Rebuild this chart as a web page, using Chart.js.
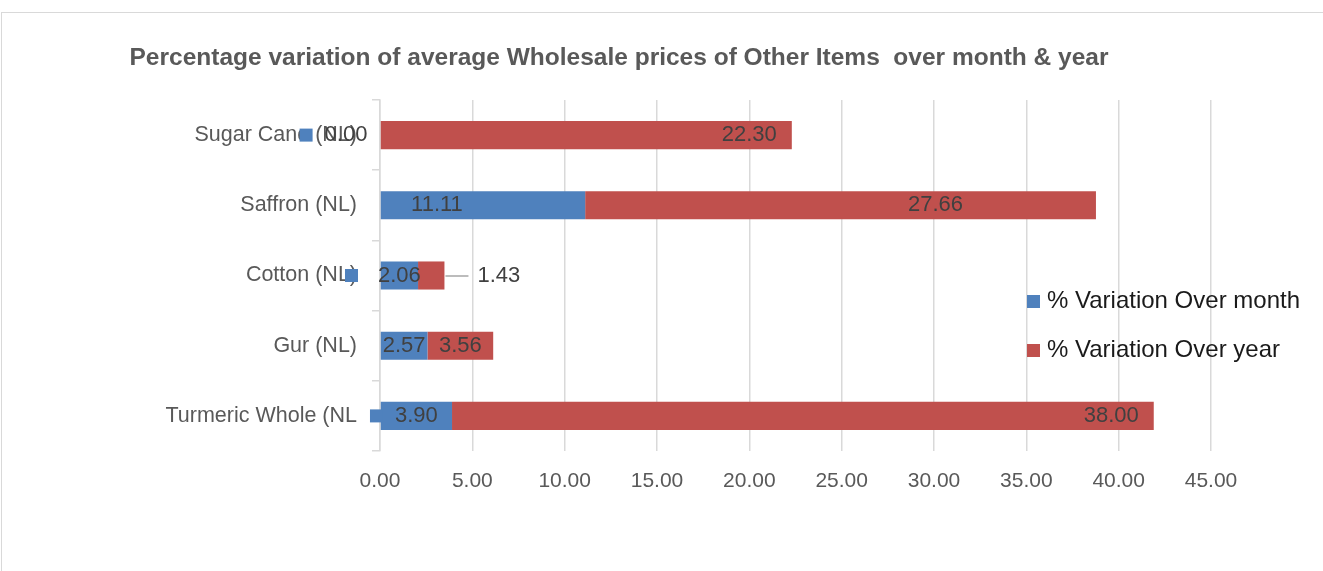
<!DOCTYPE html>
<html>
<head>
<meta charset="utf-8">
<script src="https://cdn.jsdelivr.net/npm/chart.js@4/dist/chart.umd.min.js"></script>
<style>
  html, body { margin: 0; padding: 0; background: #fff; }
  #wrap { position: relative; width: 1323px; height: 571px; }
</style>
</head>
<body>
<div id="wrap"><canvas id="chart" width="1323" height="571"></canvas></div>
<script>
// data
const categories = ['Sugar Cane (NL)', 'Saffron (NL)', 'Cotton (NL)', 'Gur (NL)', 'Turmeric Whole (NL'];
const overMonth = [0.00, 11.11, 2.06, 2.57, 3.90];
const overYear = [22.30, 27.66, 1.43, 3.56, 38.00];
const seriesNames = ['% Variation Over month', '% Variation Over year'];

// where each data label sits (label style, not data)
const monthLabelShift = [-34, -46, 0, 0, 0];
const monthKeyGap = [12, 0, 20, 0, 12]; // 0 = no legend key next to the label
const yearLabelPlace = ['end', 'center', 'outside', 'center', 'end'];
const yearLabelShift = [0, 95, 0, 0, 0];

const FONT = "'Liberation Sans', Arial, sans-serif";
const blue = '#4F81BD';
const red = '#C0504D';
const grid = '#D9D9D9';

const frame = {
    id: 'frame',
    beforeDraw(chart) {
        const ctx = chart.ctx;
        ctx.save();
        ctx.strokeStyle = grid;
        ctx.lineWidth = 1;
        ctx.strokeRect(1.5, 12.5, 1400, 700);
        ctx.fillStyle = '#595959';
        ctx.font = 'bold 24.5px ' + FONT;
        ctx.textAlign = 'center';
        ctx.textBaseline = 'middle';
        ctx.fillText('Percentage variation of average Wholesale prices of Other Items  over month & year', 619, 58);
        ctx.restore();
    },
    afterDraw(chart) {
        const ctx = chart.ctx;
        ctx.save();
        // legend inside the plot
        const cols = [blue, red];
        ctx.font = '24px ' + FONT;
        ctx.textBaseline = 'middle';
        ctx.textAlign = 'left';
        seriesNames.forEach((name, i) => {
            const y = 301 + i * 49;
            ctx.fillStyle = cols[i];
            ctx.fillRect(1027, y - 6, 13, 13);
            ctx.fillStyle = '#1a1a1a';
            ctx.fillText(name, 1047, y);
        });

        // data labels
        ctx.font = '22px ' + FONT;
        const m = chart.getDatasetMeta(0).data;
        const yr = chart.getDatasetMeta(1).data;
        m.forEach((bar, i) => {
            const txt = overMonth[i].toFixed(2);
            const cx = (bar.x + bar.base) / 2 + monthLabelShift[i];
            ctx.textAlign = 'center';
            ctx.fillStyle = '#404040';
            ctx.fillText(txt, cx, bar.y);
            if (monthKeyGap[i]) {
                const left = cx - ctx.measureText(txt).width / 2;
                ctx.fillStyle = blue;
                ctx.fillRect(left - monthKeyGap[i] - 13, bar.y - 6.5, 13, 13);
            }
        });
        ctx.fillStyle = '#404040';
        yr.forEach((bar, i) => {
            const txt = overYear[i].toFixed(2);
            const place = yearLabelPlace[i];
            if (place === 'end') {
                ctx.textAlign = 'right';
                ctx.fillText(txt, bar.x - 15 + yearLabelShift[i], bar.y);
            } else if (place === 'outside') {
                ctx.strokeStyle = '#A6A6A6';
                ctx.lineWidth = 1.5;
                ctx.beginPath();
                ctx.moveTo(bar.x + 1, bar.y + 0.5);
                ctx.lineTo(bar.x + 24, bar.y + 0.5);
                ctx.stroke();
                ctx.textAlign = 'left';
                ctx.fillText(txt, bar.x + 33 + yearLabelShift[i], bar.y);
            } else {
                ctx.textAlign = 'center';
                ctx.fillText(txt, (bar.x + bar.base) / 2 + yearLabelShift[i], bar.y);
            }
        });
        ctx.restore();
    }
};

new Chart(document.getElementById('chart'), {
    type: 'bar',
    data: {
        labels: categories,
        datasets: [
            { label: seriesNames[0], data: overMonth, backgroundColor: blue, barPercentage: 0.4, categoryPercentage: 1 },
            { label: seriesNames[1], data: overYear, backgroundColor: red, barPercentage: 0.4, categoryPercentage: 1 }
        ]
    },
    options: {
        indexAxis: 'y',
        responsive: false,
        animation: false,
        layout: { padding: { left: 0, right: 112, top: 100, bottom: 0 } },
        plugins: {
            legend: { display: false },
            title: { display: false },
            tooltip: { enabled: false }
        },
        scales: {
            x: {
                stacked: true,
                min: 0,
                max: 45,
                ticks: {
                    stepSize: 5,
                    padding: 18,
                    color: '#595959',
                    font: { family: FONT, size: 21 },
                    callback: v => Number(v).toFixed(2)
                },
                grid: { color: grid, drawTicks: false, lineWidth: 1.5 },
                border: { display: false },
                afterFit: s => { s.height = 120; }
            },
            y: {
                stacked: true,
                ticks: {
                    padding: 15,
                    color: '#595959',
                    font: { family: FONT, size: 21.5 }
                },
                grid: { drawOnChartArea: false, tickLength: 8, color: grid, lineWidth: 1.5 },
                border: { display: true, color: grid, width: 1.5 },
                afterFit: s => { s.width = 380; }
            }
        }
    },
    plugins: [frame]
});
</script>
</body>
</html>
